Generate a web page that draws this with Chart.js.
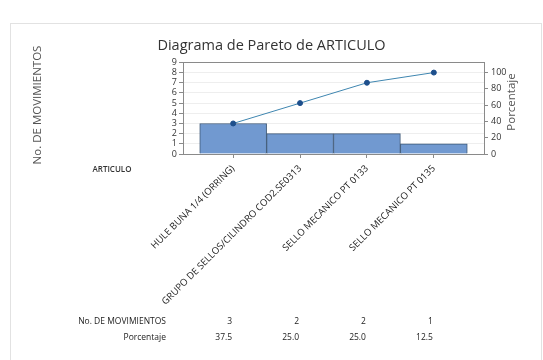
<!DOCTYPE html>
<html>
<head>
<meta charset="utf-8">
<script src="https://cdn.jsdelivr.net/npm/chart.js@4"></script>
<style>
  html, body { margin: 0; padding: 0; background: #ffffff; }
  #wrap { width: 543px; height: 360px; position: relative; }
</style>
</head>
<body>
<div id="wrap"><canvas id="c" width="543" height="360"></canvas></div>
<script>
const categories = [
  "HULE BUNA 1/4 (ORRING)",
  "GRUPO DE SELLOS/CILINDRO COD2.SE0313",
  "SELLO MECANICO PT 0133",
  "SELLO MECANICO PT 0135"
];
const movimientos = [3, 2, 2, 1];
const porcentaje = [37.5, 25.0, 25.0, 12.5];
const acumulado = [37.5, 62.5, 87.5, 100];
const leftTicks = [0, 1, 2, 3, 4, 5, 6, 7, 8, 9];
const rightTicks = [0, 20, 40, 60, 80, 100];

const FONT = "'Open Sans', 'Noto Sans', sans-serif";

const extras = {
  id: 'extras',
  afterDraw(chart) {
    const ctx = chart.ctx;
    const a = chart.chartArea;
    const xs = chart.scales.x;
    ctx.save();
    // outer light frame
    ctx.strokeStyle = '#e2e2e2';
    ctx.lineWidth = 1;
    ctx.strokeRect(10.5, 23.5, 531, 345);
    // plot frame
    ctx.strokeStyle = '#8a8a8a';
    ctx.strokeRect(Math.round(a.left) + 0.5, Math.round(a.top) + 0.5,
                   Math.round(a.right - a.left), Math.round(a.bottom - a.top));
    // left axis title
    ctx.fillStyle = '#555555';
    ctx.font = "11.5px " + FONT;
    ctx.textAlign = 'center';
    ctx.textBaseline = 'middle';
    ctx.save();
    ctx.translate(38, 105);
    ctx.rotate(-Math.PI / 2);
    ctx.fillText('No. DE MOVIMIENTOS', 0, 0);
    ctx.restore();
    // right axis title
    ctx.save();
    ctx.translate(512, 102);
    ctx.rotate(-Math.PI / 2);
    ctx.fillText('Porcentaje', 0, 0);
    ctx.restore();
    // ARTICULO label
    ctx.fillStyle = '#333333';
    ctx.font = "600 8px " + FONT;
    ctx.fillText('ARTICULO', 112, 170);
    // bottom table
    ctx.fillStyle = '#222222';
    ctx.font = "8.5px " + FONT;
    ctx.textAlign = 'right';
    ctx.fillText('No. DE MOVIMIENTOS', 166, 322);
    ctx.fillText('Porcentaje', 166, 338);
    categories.forEach((c, i) => {
      const px = xs.getPixelForValue(i) - 1;
      ctx.fillText(String(movimientos[i]), px, 322);
      ctx.fillText(porcentaje[i].toFixed(1), px, 338);
    });
    ctx.restore();
  }
};

new Chart(document.getElementById('c'), {
  type: 'bar',
  data: {
    datasets: [
      {
        type: 'line',
        label: 'Porcentaje acumulado',
        data: acumulado.map((v, i) => ({ x: i, y: v })),
        yAxisID: 'y2',
        borderColor: '#3f86b0',
        borderWidth: 1,
        pointBackgroundColor: '#1d4f8c',
        pointBorderColor: '#1d4f8c',
        pointRadius: 2.5,
        tension: 0,
        order: 0
      },
      {
        type: 'bar',
        label: 'No. DE MOVIMIENTOS',
        data: movimientos.map((v, i) => ({ x: i, y: v })),
        yAxisID: 'y',
        backgroundColor: '#7199d0',
        borderColor: '#3d5877',
        borderWidth: 1,
        barPercentage: 1,
        categoryPercentage: 1,
        order: 1
      }
    ]
  },
  options: {
    responsive: false,
    animation: false,
    devicePixelRatio: 1,
    layout: { padding: { left: 0, right: 0, top: 0, bottom: 0 } },
    plugins: {
      legend: { display: false },
      tooltip: { enabled: false },
      title: {
        display: true,
        text: 'Diagrama de Pareto de ARTICULO',
        color: '#333333',
        font: { family: FONT, size: 14.5, weight: 'normal' },
        padding: { top: 37, bottom: 8 }
      }
    },
    scales: {
      x: {
        type: 'linear',
        offset: false,
        min: -0.75,
        max: 3.75,
        afterBuildTicks: s => { s.ticks = categories.map((_, i) => ({ value: i })); },
        afterFit: s => { s.height = 206; },
        ticks: {
          callback: v => categories[v],
          minRotation: 45,
          maxRotation: 45,
          autoSkip: false,
          padding: 5,
          color: '#222222',
          font: { family: FONT, size: 9.5 }
        },
        grid: { offset: false, drawOnChartArea: false, drawTicks: true, tickLength: 4, color: '#8a8a8a' },
        border: { color: '#8a8a8a' }
      },
      y: {
        position: 'left',
        min: 0,
        max: 9,
        afterBuildTicks: s => { s.ticks = leftTicks.map(v => ({ value: v })); },
        afterFit: s => { s.width = 183; },
        ticks: {
          autoSkip: false,
          stepSize: 1,
          padding: 2,
          color: '#333333',
          font: { family: FONT, size: 9 }
        },
        grid: { color: '#eeeeee', tickColor: '#8a8a8a', tickLength: 4 },
        border: { color: '#8a8a8a' }
      },
      y2: {
        position: 'right',
        min: 0,
        max: 112.5,
        afterBuildTicks: s => { s.ticks = rightTicks.map(v => ({ value: v })); },
        afterFit: s => { s.width = 59; },
        ticks: {
          autoSkip: false,
          padding: 3,
          color: '#333333',
          font: { family: FONT, size: 9 }
        },
        grid: { drawOnChartArea: false, color: '#8a8a8a', tickLength: 4 },
        border: { color: '#8a8a8a' }
      }
    }
  },
  plugins: [extras]
});
</script>
</body>
</html>
